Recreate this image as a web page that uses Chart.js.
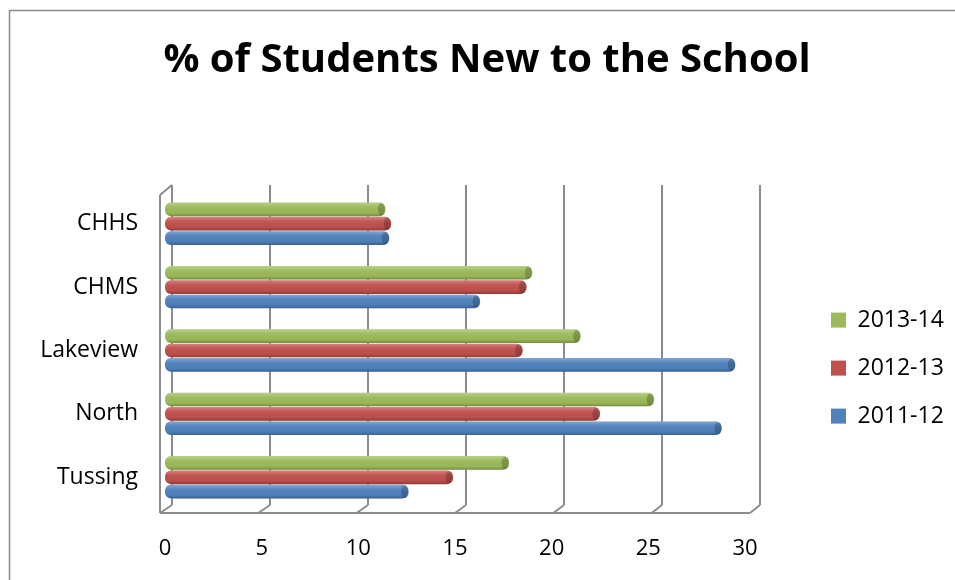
<!DOCTYPE html>
<html>
<head>
<meta charset="utf-8">
<script src="https://cdn.jsdelivr.net/npm/chart.js@4.4.1/dist/chart.umd.min.js"></script>
<style>
html, body { margin: 0; padding: 0; background: #fff; }
#wrap { width: 955px; height: 580px; }
</style>
</head>
<body>
<div id="wrap"><canvas id="newStudents"></canvas></div>
<script>
var schools = ["CHHS", "CHMS", "Lakeview", "North", "Tussing"];
var years = ["2013-14", "2012-13", "2011-12"];
var y2013 = [11.4, 19.0, 21.5, 25.3, 17.8];
var y2012 = [11.7, 18.7, 18.5, 22.5, 14.9];
var y2011 = [11.6, 16.3, 29.5, 28.8, 12.6];
var xTicks = [0, 5, 10, 15, 20, 25, 30];
var colors = ['#9bbb59', '#c0504d', '#4f81bd'];

var font = "'Open Sans', sans-serif";
var lineGrey = '#8c8c8c';

function line(ctx, x1, y1, x2, y2) {
    ctx.beginPath();
    ctx.moveTo(x1, y1);
    ctx.lineTo(x2, y2);
    ctx.stroke();
}

// outer border + fake 3d walls and floor
var frame3d = {
    id: 'frame3d',
    beforeDraw: function(chart) {
        var ctx = chart.ctx;
        ctx.save();
        ctx.strokeStyle = '#8a8a8a';
        ctx.lineWidth = 1.5;
        ctx.strokeRect(9.5, 10.5, 1000, 1000);
        ctx.restore();
    },
    beforeDatasetsDraw: function(chart) {
        var ctx = chart.ctx, x = chart.scales.x, area = chart.chartArea;
        var x0 = x.getPixelForValue(0);
        var last = xTicks[xTicks.length - 1];
        var back = function(v) {
            var p = x.getPixelForValue(v);
            return p + 7 + (p - x0) * 0.0138;
        };
        var front = function(v) {
            return x.getPixelForValue(v) - 5 + v / last * 10;
        };
        var topB = area.top - 7, botB = area.bottom - 4, floorY = area.bottom + 4;
        ctx.save();
        ctx.strokeStyle = lineGrey;
        ctx.lineWidth = 2;
        xTicks.forEach(function(v) {
            line(ctx, back(v), topB, back(v), botB);
            line(ctx, front(v), floorY, back(v), botB);
        });
        line(ctx, front(0), floorY, front(last), floorY);
        line(ctx, front(0), area.top + 3, front(0), floorY);
        line(ctx, front(0), area.top + 3, back(0), topB);
        ctx.restore();
    },
    afterDatasetsDraw: function(chart) {
        var ctx = chart.ctx;
        ctx.save();
        chart.data.datasets.forEach(function(ds, di) {
            chart.getDatasetMeta(di).data.forEach(function(el) {
                var p = el.getProps(['x', 'y', 'base', 'height'], true);
                var t = p.y - p.height / 2, h = p.height, l = p.base, r = p.x;
                var g = ctx.createLinearGradient(0, t, 0, t + h);
                g.addColorStop(0, 'rgba(255,255,255,0.3)');
                g.addColorStop(0.3, 'rgba(255,255,255,0.06)');
                g.addColorStop(0.75, 'rgba(0,0,0,0.02)');
                g.addColorStop(1, 'rgba(0,0,0,0.25)');
                ctx.beginPath();
                ctx.roundRect(l, t, r - l, h, h / 2);
                ctx.fillStyle = g;
                ctx.fill();
                ctx.beginPath();
                ctx.ellipse(r - 4, t + h / 2, 3.5, h / 2 - 0.5, 0, 0, Math.PI * 2);
                ctx.fillStyle = 'rgba(0,0,0,0.2)';
                ctx.fill();
            });
        });
        ctx.restore();
    }
};

var seriesData = [y2013, y2012, y2011];
var datasets = [];
for (var i = 0; i < years.length; i++) {
    datasets.push({
        label: years[i],
        data: seriesData[i],
        backgroundColor: colors[i],
        borderWidth: 0,
        borderRadius: 6,
        borderSkipped: false,
        categoryPercentage: 0.68,
        barPercentage: 0.95
    });
}

new Chart(document.getElementById('newStudents'), {
    type: 'bar',
    data: { labels: schools, datasets: datasets },
    plugins: [frame3d],
    options: {
        indexAxis: 'y',
        responsive: true,
        maintainAspectRatio: false,
        animation: false,
        layout: { padding: { left: 26, top: 37, right: 7, bottom: 0 } },
        plugins: {
            title: {
                display: true,
                text: '% of Students New to the School',
                color: '#000',
                font: { family: font, size: 40, weight: 'bold' },
                padding: { top: 0, bottom: 107 }
            },
            legend: {
                position: 'right',
                fullSize: false,
                maxWidth: 142,
                title: {
                    display: true,
                    text: ' ',
                    font: { size: 11 },
                    padding: 11
                },
                labels: {
                    color: '#000',
                    font: { family: font, size: 23 },
                    boxWidth: 15,
                    boxHeight: 15,
                    padding: 25
                }
            },
            tooltip: { enabled: false }
        },
        scales: {
            x: {
                min: 0,
                max: 30,
                grid: { display: false, drawTicks: false },
                border: { display: false },
                ticks: {
                    stepSize: 5,
                    color: '#000',
                    padding: 27,
                    font: { family: font, size: 22 }
                },
                afterFit: function(s) { s.height = 71; }
            },
            y: {
                grid: { display: false, drawTicks: false },
                border: { display: false },
                ticks: {
                    color: '#000',
                    padding: 27,
                    font: { family: font, size: 23 }
                },
                afterFit: function(s) { s.width = 139; }
            },
            gap: {
                type: 'category',
                axis: 'y',
                position: 'right',
                labels: [''],
                grid: { display: false, drawTicks: false },
                border: { display: false },
                ticks: { display: false },
                afterFit: function(s) { s.width = 61; }
            }
        }
    }
});
</script>
</body>
</html>
